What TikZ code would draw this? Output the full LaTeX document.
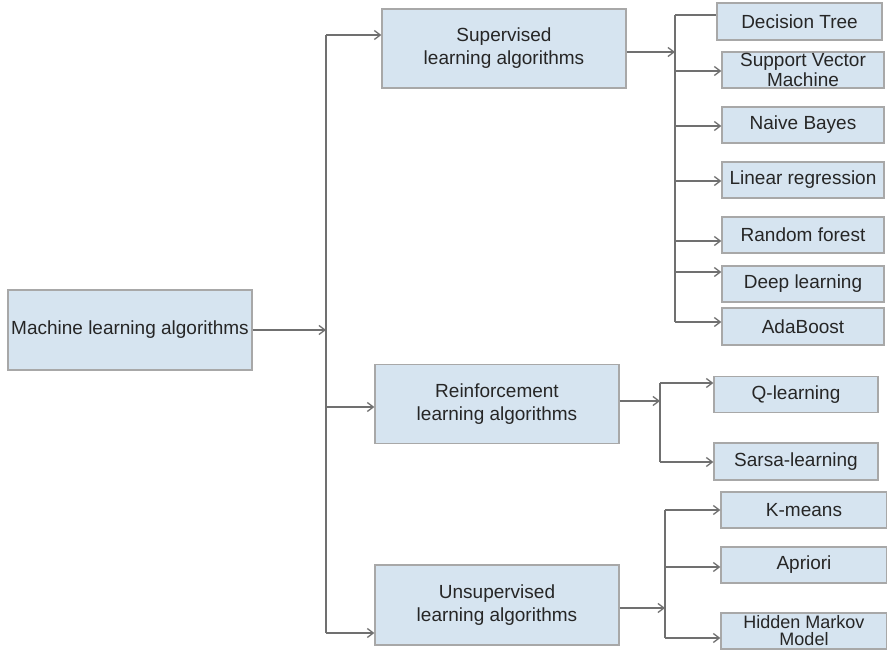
\documentclass[tikz,border=0pt]{standalone}
\usepackage{fontspec}
\setmainfont{Liberation Sans}
\usetikzlibrary{positioning,arrows.meta,calc}
\definecolor{boxfill}{RGB}{214,228,240}
\definecolor{boxline}{RGB}{168,168,168}
\definecolor{linkgray}{RGB}{112,112,112}
\definecolor{txtgray}{RGB}{38,38,38}
\tikzset{
  algbox/.style={draw=boxline, fill=boxfill, line width=1.2pt, inner sep=0pt,
    text=txtgray, align=center, font=\fontsize{19}{23}\selectfont},
  catbox/.style={algbox, minimum width=244pt, minimum height=79pt},
  leafbox/.style={algbox, minimum width=162pt, minimum height=36pt,
    font=\fontsize{19}{20}\selectfont},
  trunk/.style={draw=linkgray, line width=1.3pt},
  link/.style={trunk, -{Straight Barb[length=6pt,width=9pt]}}
}

\begin{document}
\begin{tikzpicture}[x=1pt,y=-1pt]
      \clip (0,0) rectangle (887,650);
      \fill[white] (0,0) rectangle (887,650);
      % categories
      \node[catbox, minimum height=80pt] (ml) at (130,330) {Machine learning algorithms};
      \node[catbox] (sup) at (504,48.5) {Supervised\\learning algorithms};
      \node[catbox] (rein) at (497,404) {Reinforcement\\learning algorithms};
      \node[catbox, minimum height=80pt] (uns) at (497,605) {Unsupervised\\learning algorithms};
      % supervised leaves
      \node[leafbox, minimum width=165pt, minimum height=37pt] (dt) at (799.5,21.5) {Decision Tree};
      \node[leafbox] (svm) at (803,70) {Support Vector\\Machine};
      \node[leafbox] (nb) at (803,125) {Naive Bayes};
      \node[leafbox] (lr) at (803,180) {Linear regression};
      \node[leafbox] (rf) at (803,235) {Random forest};
      \node[leafbox] (dl) at (803,284) {Deep learning};
      \node[leafbox, minimum height=37pt] (ab) at (803,326.5) {AdaBoost};
      % reinforcement leaves
      \node[leafbox, minimum width=164pt] (ql) at (796,394.5) {Q-learning};
      \node[leafbox, minimum width=164pt, minimum height=37pt] (sl) at (796,461.5) {Sarsa-learning};
      % unsupervised leaves
      \node[leafbox, minimum width=166pt] (km) at (804,510) {K-means};
      \node[leafbox, minimum width=166pt] (ap) at (804,565) {Apriori};
      \node[leafbox, minimum width=166pt, minimum height=36pt,
        font=\fontsize{18}{17}\selectfont] (hmm) at (804,631) {Hidden Markov\\Model};

      % main trunk
      \coordinate (tml) at (326,330);
      \coordinate (tsup) at (326,35);
      \coordinate (trein) at (326,407);
      \coordinate (tuns) at (326,633);
      \draw[trunk] (tsup) -- (tuns);
      \draw[link] (ml) -- (tml);
      \draw[link] (tsup) -- (tsup -| sup.west);
      \draw[link] (trein) -- (trein -| rein.west);
      \draw[link] (tuns) -- (tuns -| uns.west);

      % supervised branch
      \coordinate (sjoin) at (675,52);
      \coordinate (sdt) at (675,15);
      \coordinate (sab) at (675,322);
      \draw[link] (sup.east |- sjoin) -- (sjoin);
      \draw[trunk] (sdt) -- (sab);
      \draw[trunk] (sdt) -- (sdt -| dt.west);
      \foreach \leaf/\yy in {svm/71, nb/126, lr/181, rf/241, dl/272, ab/322}{
        \coordinate (s\leaf) at (675,\yy);
        \draw[link] (s\leaf) -- (s\leaf -| \leaf.west);
      }

      % reinforcement branch
      \coordinate (rjoin) at (660,401);
      \coordinate (rql) at (660,383);
      \coordinate (rsl) at (660,462);
      \draw[link] (rein.east |- rjoin) -- (rjoin);
      \draw[trunk] (rql) -- (rsl);
      \draw[link] (rql) -- (rql -| ql.west);
      \draw[link] (rsl) -- (rsl -| sl.west);

      % unsupervised branch
      \coordinate (ujoin) at (665,608);
      \coordinate (ukm) at (665,510);
      \coordinate (uap) at (665,567);
      \coordinate (uhmm) at (665,638);
      \draw[link] (uns.east |- ujoin) -- (ujoin);
      \draw[trunk] (ukm) -- (uhmm);
      \draw[link] (ukm) -- (ukm -| km.west);
      \draw[link] (uap) -- (uap -| ap.west);
      \draw[link] (uhmm) -- (uhmm -| hmm.west);
\end{tikzpicture}
\end{document}
